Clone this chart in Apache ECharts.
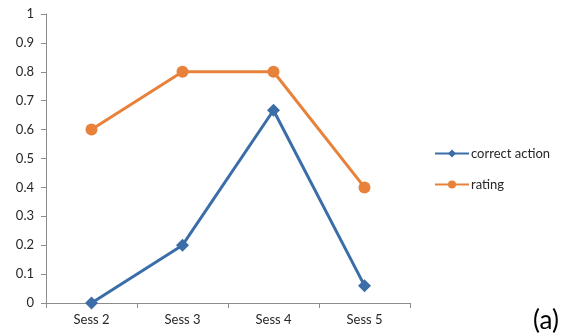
<!DOCTYPE html>
<html>
<head>
<meta charset="utf-8">
<script src="https://cdn.jsdelivr.net/npm/echarts@6/dist/echarts.min.js"></script>
<style>
  html, body { margin: 0; padding: 0; background: #fff; }
  #chart { width: 577px; height: 336px; }
</style>
</head>
<body>
<div id="chart"></div>
<script>
// Session labels and the two measured series
const sessions = ['Sess 2', 'Sess 3', 'Sess 4', 'Sess 5'];
const correctAction = [0, 0.2, 0.667, 0.06];
const rating = [0.6, 0.8, 0.8, 0.4];

const FONT = 'Lato, "Open Sans", sans-serif';
const BLUE = '#3b6ea8';
const ORANGE = '#e8823a';
const AXIS = '#8c8c8c';

const chart = echarts.init(document.getElementById('chart'));
chart.setOption({
  animation: false,
  backgroundColor: '#fff',
  grid: { left: 46, right: 167, top: 14, bottom: 33 },
  xAxis: {
    type: 'category',
    data: sessions,
    boundaryGap: true,
    axisLine: { lineStyle: { color: AXIS, width: 1 } },
    axisTick: { show: true, length: 5, lineStyle: { color: AXIS } },
    axisLabel: { color: '#262626', fontFamily: FONT, fontSize: 13, margin: 10 },
    splitLine: { show: false }
  },
  yAxis: {
    type: 'value',
    min: 0,
    max: 1,
    interval: 0.1,
    axisLine: { show: true, lineStyle: { color: AXIS, width: 1 } },
    axisTick: { show: true, inside: false, length: 5, lineStyle: { color: AXIS } },
    axisLabel: {
      color: '#262626', fontFamily: FONT, fontSize: 13, margin: 12,
      formatter: v => String(Math.round(v * 10) / 10)
    },
    splitLine: { show: false }
  },
  legend: {
    orient: 'vertical',
    left: 434,
    top: 147,
    padding: 0,
    itemWidth: 34,
    itemHeight: 10,
    itemGap: 18,
    textStyle: { color: '#262626', fontFamily: FONT, fontSize: 13, padding: [0, 0, 0, -3] },
    data: ['correct action', 'rating']
  },
  series: [
    {
      name: 'correct action',
      type: 'line',
      data: correctAction,
      symbol: 'diamond',
      symbolSize: 13,
      color: BLUE,
      lineStyle: { width: 3, color: BLUE },
      itemStyle: { color: BLUE }
    },
    {
      name: 'rating',
      type: 'line',
      data: rating,
      symbol: 'circle',
      symbolSize: 12,
      color: ORANGE,
      lineStyle: { width: 3, color: ORANGE },
      itemStyle: { color: ORANGE }
    }
  ],
  graphic: [
    {
      type: 'text',
      left: 533,
      top: 308,
      style: { text: '(a)', font: '26px ' + FONT, fill: '#000' }
    }
  ]
});
</script>
</body>
</html>
